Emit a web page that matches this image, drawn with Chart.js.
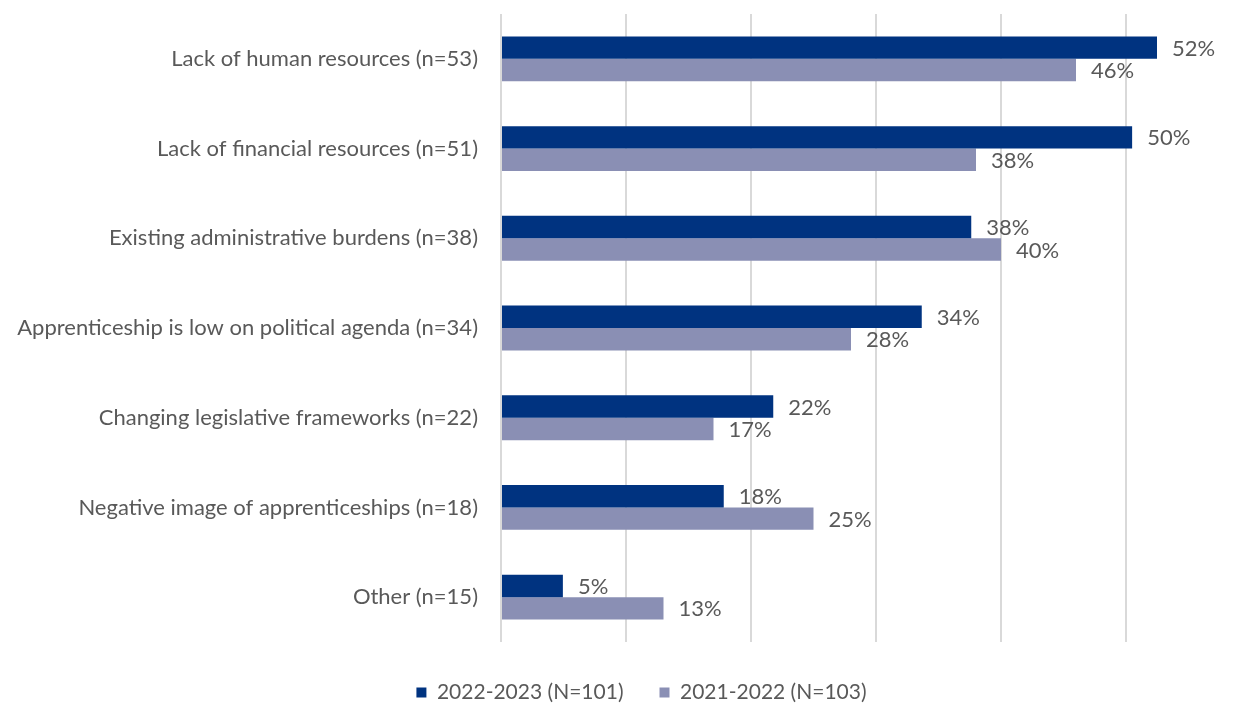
<!DOCTYPE html>
<html>
<head>
<meta charset="utf-8">
<script src="https://cdn.jsdelivr.net/npm/chart.js@4.4.1/dist/chart.umd.min.js"></script>
<style>
  html, body { margin: 0; padding: 0; background: #fff; }
  #wrap { width: 1247px; height: 705px; }
</style>
</head>
<body>
<div id="wrap"><canvas id="myChart" width="1247" height="705"></canvas></div>
<script>
// categories and values (percent)
const categories = [
  'Lack of human resources (n=53)',
  'Lack of financial resources (n=51)',
  'Existing administrative burdens (n=38)',
  'Apprenticeship is low on political agenda (n=34)',
  'Changing legislative frameworks (n=22)',
  'Negative image of apprenticeships (n=18)',
  'Other (n=15)'
];
const values2223 = [52.48, 50.49, 37.62, 33.66, 21.78, 17.82, 4.95];
const values2122 = [46.0, 38.0, 40.0, 28.0, 17.0, 25.0, 13.0];
const seriesNames = ['2022-2023 (N=101)', '2021-2022 (N=103)'];

const textColor = '#595959';
const fontFamily = 'Lato, "Open Sans", sans-serif';

// draws the % labels right of each bar
const barLabels = {
  id: 'barLabels',
  afterDatasetsDraw(chart) {
    const ctx = chart.ctx;
    ctx.save();
    ctx.font = '22px ' + fontFamily;
    ctx.fillStyle = textColor;
    ctx.textAlign = 'left';
    ctx.textBaseline = 'middle';
    chart.data.datasets.forEach((ds, i) => {
      const meta = chart.getDatasetMeta(i);
      meta.data.forEach((bar, j) => {
        ctx.fillText(Math.round(ds.data[j]) + '%', bar.x + 15, bar.y + 1);
      });
    });
    ctx.restore();
  }
};

// fixed legend height, and nudge the legend a bit right / down
const legendFix = {
  id: 'legendFix',
  beforeInit(chart) {
    const fit = chart.legend.fit;
    chart.legend.fit = function () {
      fit.call(this);
      this.height = 63;
    };
  },
  afterLayout(chart) {
    chart.legend.left += 36;
    chart.legend.top += 4;
  }
};

var ctx = document.getElementById('myChart').getContext('2d');
var myChart = new Chart(ctx, {
  type: 'bar',
  data: {
    labels: categories,
    datasets: [{
      label: seriesNames[0],
      data: values2223,
      backgroundColor: '#003380'
    }, {
      label: seriesNames[1],
      data: values2122,
      backgroundColor: '#8a8fb4'
    }]
  },
  options: {
    indexAxis: 'y',
    responsive: false,
    animation: false,
    layout: { padding: { top: 14, right: 0, left: 0, bottom: 0 } },
    datasets: {
      bar: { categoryPercentage: 0.5, barPercentage: 1.0 }
    },
    scales: {
      x: {
        min: 0,
        max: 59.68,
        ticks: { display: false, stepSize: 10, includeBounds: false },
        grid: { color: '#d9d9d9', lineWidth: 2, drawTicks: false },
        border: { display: false },
        afterFit(scale) { scale.height = 0; }
      },
      y: {
        ticks: {
          color: textColor,
          font: { family: fontFamily, size: 22 },
          padding: 23
        },
        grid: { display: false, drawTicks: false },
        border: { display: false },
        afterFit(scale) {
          scale.width = 501;
          scale.paddingTop = 0;
          scale.paddingBottom = 0;
        }
      }
    },
    plugins: {
      legend: {
        position: 'bottom',
        labels: {
          color: textColor,
          font: { family: fontFamily, size: 21 },
          boxWidth: 10,
          boxHeight: 10,
          padding: 36
        }
      },
      tooltip: { enabled: false }
    }
  },
  plugins: [barLabels, legendFix]
});
</script>
</body>
</html>
